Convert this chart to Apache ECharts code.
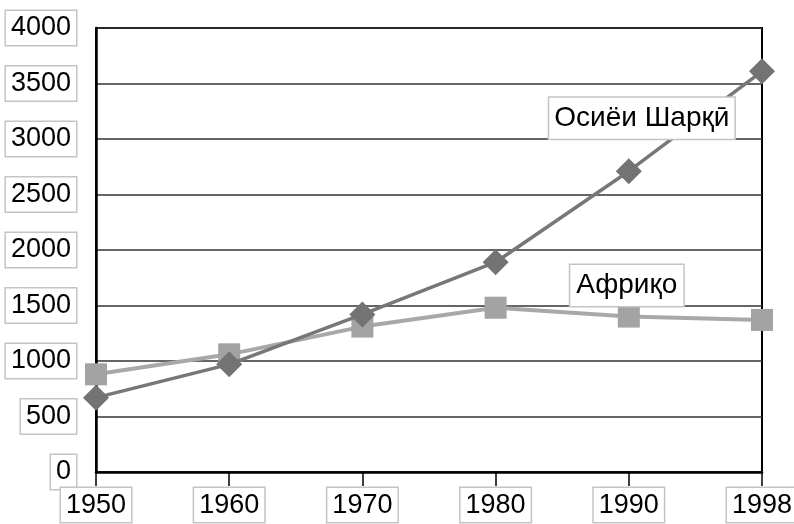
<!DOCTYPE html>
<html>
<head>
<meta charset="utf-8">
<title>Осиёи Шарқӣ ва Африқо</title>
<script src="https://cdn.jsdelivr.net/npm/echarts@6/dist/echarts.min.js"></script>
</head>
<body style="margin:0;background:#fff">
<div id="main" style="width:794px;height:524px;"></div>
<script type="text/javascript">
const years = ['1950', '1960', '1970', '1980', '1990', '1998']
const eastAsia = [670, 970, 1420, 1890, 2710, 3610]
const africa = [880, 1060, 1310, 1480, 1400, 1370]
const eastAsiaName = 'Осиёи Шарқӣ'
const africaName = 'Африқо'

const boxLabel = {
    fontFamily: 'Liberation Sans, Arial, sans-serif',
    fontSize: 27,
    color: '#000',
    backgroundColor: '#fff',
    borderColor: '#c4c4c4',
    borderWidth: 1.5,
    padding: [4, 5, 3, 5]
}

var myChart = echarts.init(document.getElementById('main'))

option = {
    animation: false,
    backgroundColor: '#fff',
    grid: {
        left: 96,
        right: 32,
        top: 28,
        bottom: 52,
        containLabel: false,
        outerBoundsMode: 'none',
        show: true,
        borderColor: '#000',
        borderWidth: 2
    },
    xAxis: {
        type: 'category',
        data: years,
        boundaryGap: false,
        axisLine: { lineStyle: { color: '#000', width: 2.5 } },
        axisTick: { show: true, alignWithLabel: true, length: 14, lineStyle: { color: '#000', width: 1.5 } },
        axisLabel: Object.assign({ margin: 16, interval: 0 }, boxLabel),
        splitLine: { show: false }
    },
    yAxis: {
        type: 'value',
        min: 0,
        max: 4000,
        interval: 500,
        axisLine: { show: true, lineStyle: { color: '#000', width: 2.5 } },
        axisTick: { show: false },
        axisLabel: Object.assign({ margin: 20, formatter: v => String(v) }, boxLabel),
        splitLine: { show: true, lineStyle: { color: '#333', width: 1.5 } }
    },
    series: [
        {
            name: africaName,
            type: 'line',
            data: africa.map((v, i) => i === 4 ? {
                value: v,
                label: Object.assign({}, boxLabel, {
                    show: true,
                    formatter: africaName,
                    position: 'inside',
                    offset: [-2, -31],
                    fontSize: 28,
                    padding: [7, 6, 6, 6]
                })
            } : v),
            symbol: 'rect',
            symbolSize: 22,
            lineStyle: { color: '#a8a8a8', width: 4 },
            itemStyle: { color: '#a3a3a3' },
            z: 2
        },
        {
            name: eastAsiaName,
            type: 'line',
            data: eastAsia.map((v, i) => i === 4 ? {
                value: v,
                label: Object.assign({}, boxLabel, {
                    show: true,
                    formatter: eastAsiaName,
                    position: 'inside',
                    offset: [13, -53],
                    fontSize: 28,
                    padding: [7, 5, 6, 5]
                })
            } : v),
            symbol: 'diamond',
            symbolSize: 26,
            lineStyle: { color: '#777', width: 3.5 },
            itemStyle: { color: '#737373' },
            z: 3
        }
    ]
}

myChart.setOption(option)
</script>
</body>
</html>
